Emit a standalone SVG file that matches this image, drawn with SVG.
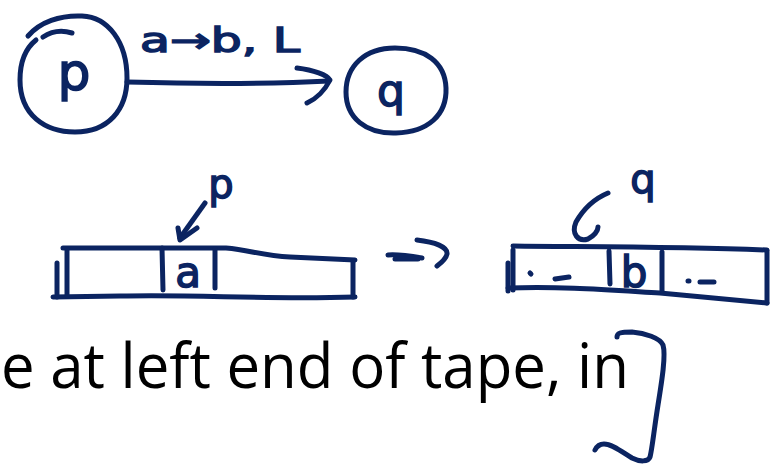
<svg xmlns="http://www.w3.org/2000/svg" width="784" height="465" viewBox="0 0 784 465">
<style>
.ink{fill:none;stroke:#0b2461;stroke-width:5;stroke-linecap:round;stroke-linejoin:round}
.hw{font-family:"DejaVu Sans","Liberation Sans",sans-serif;fill:#0b2461;stroke:#0b2461;stroke-width:1.5;text-anchor:middle}
.body{font-family:"Open Sans","Liberation Sans",sans-serif;fill:#000}
</style>
<rect width="784" height="465" fill="#fff"/>
<g id="state-p">
<path class="ink" d="M28,36 C40,22 60,15 82,16 C108,17 127,42 127,78 C127,110 108,132 75,132 C45,132 20,115 20,80 C20,62 26,48 36,40"/>
<path class="ink" d="M43,37 C52,31 62,30 72,33"/>
<text class="hw" x="74" y="90" font-size="52">p</text>
</g>
<g id="state-q">
<path class="ink" d="M395,48 C365,48 346,66 346,92 C346,118 366,134 396,133 C428,132 447,115 446,88 C445,62 425,48 395,48"/>
<text class="hw" x="391" y="106" font-size="44">q</text>
</g>
<g id="tape-1">
<path class="ink" d="M63,248 L226,248 C250,250 263,256 290,257 L355,260"/>
<path class="ink" d="M53,297 L120,296 C200,294 260,300 355,297"/>
<path class="ink" d="M67,250 L67,296"/>
<path class="ink" d="M57,263 L57,297"/>
<path class="ink" d="M353,261 L353,297"/>
<path class="ink" d="M162,248 L163,290"/>
<path class="ink" d="M215,249 L215,288"/>
<text class="hw" x="188" y="287" font-size="42">a</text>
</g>
<g id="tape-2">
<path class="ink" d="M513,246 C600,247 680,247 767,250"/>
<path class="ink" d="M508,288 C560,286 610,290 660,293 L767,303"/>
<path class="ink" d="M513,250 L513,290"/>
<path class="ink" d="M508,263 L508,291"/>
<path class="ink" d="M767,251 L767,303"/>
<path class="ink" d="M609,251 L610,284" stroke-width="7"/>
<path class="ink" d="M662,252 L662,291"/>
<text class="hw" x="634" y="287" font-size="42">b</text>
<path class="ink" d="M530,273 L531,274 M555,279 L569,277 M688,281 L689,281 M700,282 L714,282"/>
</g>
<g id="label-p-pointer">
<text class="hw" x="221" y="198" font-size="40">p</text>
</g>
<g id="label-q-pointer">
<text class="hw" x="643" y="193" font-size="40">q</text>
</g>
<g id="transition-label">
<text class="hw" x="220" y="52" font-size="34" textLength="160" lengthAdjust="spacingAndGlyphs">a→b, L</text>
</g>
<g id="connectors">
<path class="ink" d="M127,82 C200,84 270,84 329,81"/>
<path class="ink" d="M297,68 C314,70 327,75 330,80 C325,90 316,99 307,103"/>
<path class="ink" d="M205,203 L180,238"/>
<path class="ink" d="M178,228 L180,240 L197,228"/>
<path class="ink" d="M608,193 C596,198 584,208 576,222 C571,234 578,242 588,239 C594,236 598,231 598,227"/>
<path class="ink" d="M388,255 C398,254 410,256 422,258"/>
<path class="ink" d="M395,259 L418,259"/>
<path class="ink" d="M417,240 C435,242 448,247 447,254 C446,259 441,263 437,266"/>
</g>
<g id="bracket">
<path class="ink" d="M617,337 C617,333 620,332 632,332 C645,333 660,338 663,345 C666,355 662,380 658,405 C654,430 652,450 650,457 C648,462 640,462 632,458 C622,452 612,444 604,444 C599,444 596,448 595,450"/>
</g>
<g id="caption">
<text class="body" x="1" y="388" font-size="62" textLength="628" lengthAdjust="spacingAndGlyphs">e at left end of tape, in</text>
</g>
</svg>
